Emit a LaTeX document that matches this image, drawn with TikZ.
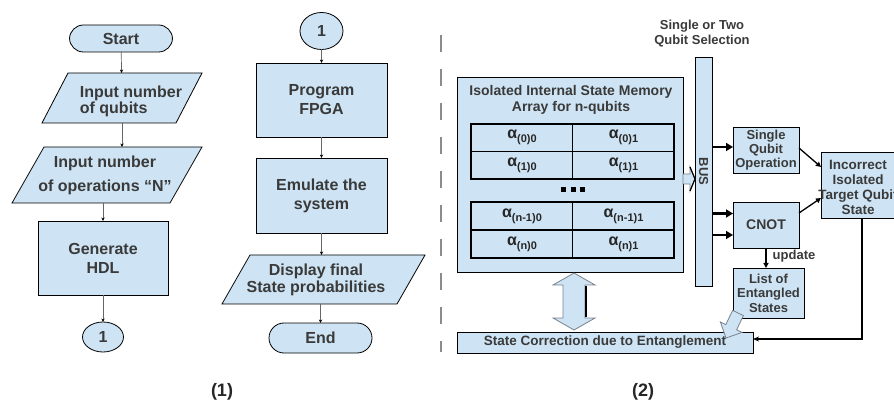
\documentclass[tikz,border=0pt]{standalone}
\usepackage{fontspec}
\setmainfont{Liberation Sans}
\usetikzlibrary{arrows.meta,shapes.geometric}

\definecolor{boxfill}{RGB}{206,228,244}
\definecolor{inktext}{RGB}{58,58,58}
\definecolor{dashgray}{RGB}{140,140,140}
\definecolor{softedge}{RGB}{120,130,140}

% font size in pt with baseline skip
\newcommand{\pxsize}[2]{\fontsize{#1pt}{#2pt}\selectfont}
% outline of a parallelogram around an (invisible) rectangular node
\newcommand{\paraoutline}[2]{%
  \draw[shapeline] ([xshift=#2pt]#1.north west) -- ([xshift=#2pt]#1.north east)
    -- ([xshift=-#2pt]#1.south east) -- ([xshift=-#2pt]#1.south west) -- cycle;}
% amplitude label alpha with subscript
\newcommand{\ampl}[1]{{\pxsize{16}{16}α}{\pxsize{11}{11}\raisebox{-4pt}{#1}}}

\begin{document}
\begin{tikzpicture}[x=1pt,y=-1pt,
  every node/.style={inner sep=0pt, outer sep=0pt, text=inktext},
  shapeline/.style={draw=black, line width=0.8pt, fill=boxfill},
  flowbox/.style={shapeline, align=center, font=\bfseries\pxsize{16}{19}},
  termbox/.style={flowbox, rounded corners=14pt},
  connbox/.style={flowbox, ellipse},
  paratext/.style={font=\bfseries\pxsize{16}{16}},
  flowarrow/.style={draw=black!60, line width=0.7pt, -{Stealth[length=3.5pt,width=3.2pt,black]}},
  blockbox/.style={shapeline, align=center, font=\bfseries\pxsize{13}{14}},
  smalltext/.style={align=center, font=\bfseries\pxsize{13}{15}},
  tableline/.style={draw=black, line width=1.6pt},
  celltext/.style={text=black!85, font=\bfseries},
  busarrow/.style={draw=black, line width=2.2pt, -{Triangle[length=7pt,width=8pt]}},
  thinarrow/.style={draw=black, line width=1.3pt, -{Triangle[length=5pt,width=5pt]}},
  blockarrow/.style={fill=boxfill, draw=softedge, line width=0.8pt, line join=miter}
]
\useasboundingbox (0,0) rectangle (894,403);
\fill[white] (0,0) rectangle (894,403);

% ---------------- flowchart (1), first column ----------------
\node[termbox, minimum width=103, minimum height=27] (start) at (121,38.5) {Start};

\node[minimum width=134, minimum height=50] (in1) at (122,98) {};
\paraoutline{in1}{13}
\node[paratext, align=left] (in1txt) at (131,101) {Input number\\of qubits};

\node[minimum width=158, minimum height=56] (in2) at (107,175) {};
\paraoutline{in2}{16}
\node[paratext, align=center] (in2txt) at (105,175) {Input number\\[8pt]of operations “N”};

\node[flowbox, minimum width=130, minimum height=74] (gen) at (103,258) {Generate\\HDL};
\node[connbox, minimum width=41, minimum height=30] (c1) at (103,337) {1};

\draw[flowarrow] (start) -- (in1);
\draw[flowarrow] (in1.south) -- (in1.south |- in2.north);
\draw[flowarrow] (gen.north |- in2.south) -- (gen.north);
\draw[flowarrow] (gen) -- (c1);

% ---------------- flowchart (1), second column ----------------
\node[connbox, minimum width=43, minimum height=37] (c2) at (321.5,31) {1};
\node[flowbox, minimum width=131, minimum height=74] (prog) at (321.5,100) {Program\\FPGA};
\node[flowbox, minimum width=131, minimum height=75] (emu) at (321.5,195.5) {Emulate the\\system};

\node[minimum width=175, minimum height=49] (disp) at (323.5,279.5) {};
\paraoutline{disp}{14}
\node[paratext, align=center] (disptxt) at (316,280) {Display final\\[1pt]State probabilities};

\node[termbox, minimum width=103, minimum height=30, rounded corners=15pt] (end) at (320.5,338) {End};

\draw[flowarrow] (c2) -- (prog);
\draw[flowarrow] (prog) -- (emu);
\draw[flowarrow] (emu.south) -- (emu.south |- disp.north);
\draw[flowarrow] (end.north |- disp.south) -- (end.north);

% separator
\draw[dashgray, line width=2pt, dash pattern=on 17pt off 17pt] (441,35) -- (441,352);

% ---------------- architecture (2) ----------------
\node[shapeline, minimum width=226, minimum height=195] (mem) at (570,174.5) {};
\node[align=center, font=\bfseries\pxsize{14}{16}] (memtitle) at (571,100)
  {Isolated Internal State Memory\\Array for n-qubits};

% upper amplitude table
\node[tableline, fill=boxfill, minimum width=203, minimum height=55] (tab1) at (572.5,151.5) {};
\draw[tableline] (tab1.west) -- (tab1.east);
\draw[black, line width=0.9pt] (tab1.north) -- (tab1.south);
\node[celltext] at (522,137.5) {\ampl{(0)0}};
\node[celltext] at (623.5,137.5) {\ampl{(0)1}};
\node[celltext] at (522,165) {\ampl{(1)0}};
\node[celltext] at (623.5,165) {\ampl{(1)1}};

% ellipsis between the tables
\fill[black] (561,187) rectangle (566,192);
\fill[black] (570.5,187) rectangle (575.5,192);
\fill[black] (580,187) rectangle (585,192);

% lower amplitude table
\node[tableline, fill=boxfill, minimum width=203, minimum height=56] (tab2) at (572.5,230) {};
\draw[tableline] (tab2.west) -- (tab2.east);
\draw[black, line width=0.9pt] (tab2.north) -- (tab2.south);
\node[celltext] at (522,216.5) {\ampl{(n-1)0}};
\node[celltext] at (623.5,216.5) {\ampl{(n-1)1}};
\node[celltext] at (522,244.5) {\ampl{(n)0}};
\node[celltext] at (623.5,244.5) {\ampl{(n)1}};

% selection bus
\node[smalltext] (seltitle) at (702,34) {Single or Two\\Qubit Selection};
\node[shapeline, minimum width=17, minimum height=229] (bus) at (703.5,171.5) {};
\node[rotate=-90, font=\bfseries\pxsize{13}{13}] (bustxt) at (bus) {BUS};

% memory to bus
\filldraw[blockarrow] (683,174) -- (690,174) -- (690,167) -- (695,179)
  -- (690,191) -- (690,184) -- (683,184) -- cycle;
\draw[black, line width=1.2pt] (690,167) -- (695,179) -- (690,191);

% operation blocks
\node[blockbox, minimum width=66, minimum height=46] (sq) at (766,150) {Single\\Qubit\\Operation};
\node[blockbox, minimum width=66, minimum height=46, font=\bfseries\pxsize{14}{14}] (cnot) at (766,225) {CNOT};
\node[shapeline, minimum width=80, minimum height=66] (inc) at (861,185) {};
\node[align=center, font=\bfseries\pxsize{13.5}{15}] (inctxt) at (858,187.5) {Incorrect\\Isolated\\Target Qubit\\State};
\node[blockbox, minimum width=71, minimum height=50, font=\bfseries\pxsize{13}{14.5}] (list) at (768.5,293) {List of\\Entangled\\States};
\node[shapeline, minimum width=296, minimum height=21, font=\bfseries\pxsize{13.5}{13.5}] (sc) at (605,342.5)
  {State Correction due to Entanglement};

\coordinate (rowA) at (0,147);
\coordinate (rowB) at (0,213.5);
\coordinate (rowC) at (0,235);
\draw[busarrow] (bus.east |- rowA) -- (sq.west |- rowA);
\draw[busarrow] (bus.east |- rowB) -- (cnot.west |- rowB);
\draw[busarrow] (bus.east |- rowC) -- (cnot.west |- rowC);

\draw[thinarrow] ([yshift=2pt]sq.east) -- ([yshift=18pt]inc.west);
\draw[thinarrow] ([yshift=12pt]cnot.east) -- ([yshift=-13pt]inc.west);
\draw[thinarrow] (cnot.south) -- (cnot.south |- list.north);
\node[font=\bfseries\pxsize{13}{13}] (upd) at (794,256) {update};

\coordinate (fb) at (862,339);
\draw[draw=black, line width=1.6pt, -{Stealth[length=6pt,width=5pt]}]
  (inc.south -| fb) -- (fb) -- (sc.east |- fb);

% memory <-> state correction
\filldraw[blockarrow] (574,273) -- (595,285) -- (585,285) -- (585,318) -- (595,318)
  -- (574,330) -- (553,318) -- (563,318) -- (563,285) -- (553,285) -- cycle;
\draw[black, line width=1.6pt] (586,286) -- (586,317);

% entangled list -> state correction
\filldraw[blockarrow] (732.6,310.4) -- (743.4,315.6) -- (736.6,329.8) -- (742.0,332.4)
  -- (726,338) -- (720.4,322.0) -- (725.8,324.6) -- cycle;

% panel captions
\node[font=\bfseries\pxsize{18}{18}, text=black!85] (cap1) at (222,392) {(1)};
\node[font=\bfseries\pxsize{18}{18}, text=black!85] (cap2) at (643,392) {(2)};
\end{tikzpicture}
\end{document}
